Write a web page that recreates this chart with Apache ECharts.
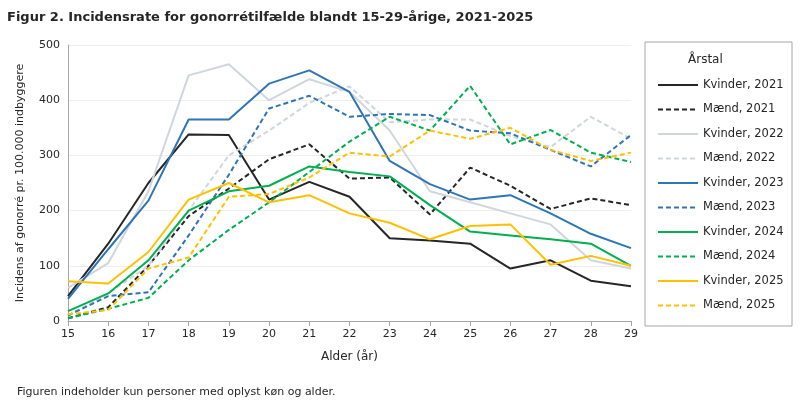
<!DOCTYPE html>
<html><head><meta charset="utf-8">
<script src="https://cdn.jsdelivr.net/npm/echarts@6/dist/echarts.min.js"></script>
<style>body{margin:0}#c{width:800px;height:407px}</style></head>
<body><div id="c"></div>
<script>
var ages=['15','16','17','18','19','20','21','22','23','24','25','26','27','28','29']
var names=['Kvinder, 2021','Mænd, 2021','Kvinder, 2022','Mænd, 2022','Kvinder, 2023','Mænd, 2023','Kvinder, 2024','Mænd, 2024','Kvinder, 2025','Mænd, 2025']
var k2021=[45,140,250,338,337,220,252,225,150,146,140,95,110,73,63]
var m2021=[5,25,100,190,240,293,320,258,260,193,278,245,203,222,210]
var k2022=[60,105,235,445,465,400,438,415,345,235,215,195,175,110,95]
var m2022=[10,50,100,200,300,345,395,425,360,365,365,335,315,370,330]
var k2023=[40,130,218,365,365,430,454,415,290,248,220,228,195,158,132]
var m2023=[10,45,52,155,265,385,408,370,375,373,345,340,310,280,337]
var k2024=[18,50,110,200,235,245,280,270,262,210,162,155,148,140,100]
var m2024=[5,22,42,110,165,215,270,325,370,345,426,320,346,305,288]
var k2025=[72,68,125,220,250,215,228,195,178,148,172,175,102,118,100]
var m2025=[12,20,95,115,225,230,260,305,298,345,330,350,310,290,305]
var values=[k2021,m2021,k2022,m2022,k2023,m2023,k2024,m2024,k2025,m2025]
var colors=['#262626','#262626','#d0d5de','#d0d5de','#2e75b6','#2e75b6','#00b050','#00b050','#ffc000','#ffc000']
var font='"DejaVu Sans", sans-serif'
var myChart=echarts.init(document.getElementById('c'))
var series=names.map(function(n,i){
    return {name:n,type:'line',data:values[i],symbol:'none',
        lineStyle:{width:2,color:colors[i],type:i%2?[5,3]:'solid'},itemStyle:{color:colors[i]}}
})
myChart.setOption({
    animation:false,
    textStyle:{fontFamily:font},
    title:[{text:'Figur 2. Incidensrate for gonorrétilfælde blandt 15-29-årige, 2021-2025',left:2,top:6,
        textStyle:{fontSize:13,fontWeight:'bold',color:'#262626',fontFamily:font}},
        {text:'Figuren indeholder kun personer med oplyst køn og alder.',left:12,top:382,
        textStyle:{fontSize:11,fontWeight:'normal',color:'#262626',fontFamily:font}}],
    graphic:[{type:'rect',shape:{x:645,y:42,width:147,height:284},style:{fill:'none',stroke:'#a6a6a6',lineWidth:1}},
        {type:'text',left:688,top:54,style:{text:'Årstal',fontSize:12,fill:'#262626',fontFamily:font}}],
    legend:{orient:'vertical',left:652,top:74,itemGap:12.5,itemWidth:40,itemHeight:12,
        itemStyle:{opacity:0},
        textStyle:{fontSize:11.5,color:'#262626'},data:names},
    grid:{left:68,right:169,top:45,bottom:86},
    xAxis:{type:'category',data:ages,boundaryGap:false,name:'Alder (år)',nameLocation:'middle',nameGap:30,
        nameTextStyle:{fontSize:12,color:'#262626'},
        axisLine:{lineStyle:{color:'#a6a6a6'}},axisTick:{show:true,lineStyle:{color:'#a6a6a6'}},
        axisLabel:{color:'#262626',fontSize:11}},
    yAxis:{type:'value',min:0,max:500,interval:100,name:'Incidens af gonorré pr. 100.000 indbyggere',
        nameLocation:'middle',nameGap:42,nameTextStyle:{fontSize:11,color:'#262626'},
        axisLine:{show:true,lineStyle:{color:'#a6a6a6'}},
        axisLabel:{color:'#262626',fontSize:11},splitLine:{lineStyle:{color:'#eeeeee',type:'solid'}}},
    series:series
})
</script></body></html>
